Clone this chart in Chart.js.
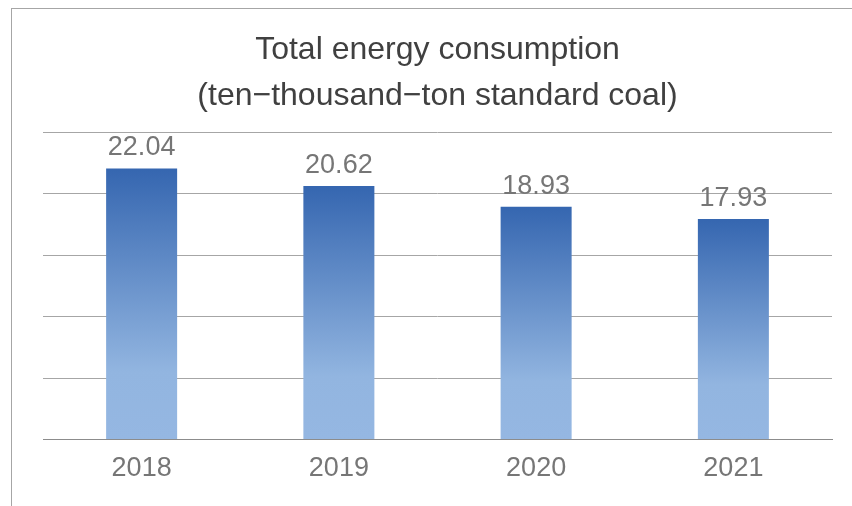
<!DOCTYPE html>
<html>
<head>
<meta charset="utf-8">
<script src="https://cdn.jsdelivr.net/npm/chart.js@4/dist/chart.umd.min.js"></script>
<style>
  html, body { margin: 0; padding: 0; background: #fff; }
  #frame {
    position: absolute; left: 11px; top: 8px; width: 841px; height: 498px;
    border-left: 1px solid #a6a6a6; border-top: 1px solid #a6a6a6;
  }
  #wrap { position: absolute; left: 12px; top: 9px; width: 840px; height: 497px; }
</style>
</head>
<body>
<div id="frame"></div>
<div id="wrap"><canvas id="mycanvas"></canvas></div>
<script>
var years = ['2018', '2019', '2020', '2021'];
var consumption = [22.04, 20.62, 18.93, 17.93];
var titleLines = ['Total energy consumption', '(ten\u2212thousand\u2212ton standard coal)'];

var fontName = '"Liberation Sans", Arial, sans-serif';

// value labels above bars
var valueLabels = {
  id: 'valueLabels',
  afterDatasetsDraw: function(chart) {
    var ctx = chart.ctx;
    var meta = chart.getDatasetMeta(0);
    ctx.save();
    ctx.font = '27px ' + fontName;
    ctx.fillStyle = '#767676';
    ctx.textAlign = 'center';
    ctx.textBaseline = 'alphabetic';
    meta.data.forEach(function(bar, i) {
      ctx.fillText(consumption[i].toFixed(2), bar.x, bar.y - 13);
    });
    ctx.restore();
  }
};

function barGradient(context) {
  var chart = context.chart;
  var area = chart.chartArea;
  if (!area) return '#5b86c6';
  var y = chart.scales.y;
  var v = context.raw;
  var top = y.getPixelForValue(v);
  var bottom = y.getPixelForValue(0);
  var g = chart.ctx.createLinearGradient(0, top, 0, bottom);
  g.addColorStop(0, '#3566b0');
  g.addColorStop(0.75, '#92b5e0');
  g.addColorStop(1, '#95b7e2');
  return g;
}

var ctx = document.getElementById('mycanvas');
new Chart(ctx, {
  type: 'bar',
  data: {
    labels: years,
    datasets: [{
      label: 'Total energy consumption',
      data: consumption,
      backgroundColor: barGradient,
      borderWidth: 0,
      barPercentage: 0.36,
      categoryPercentage: 1
    }]
  },
  plugins: [valueLabels],
  options: {
    responsive: true,
    maintainAspectRatio: false,
    animation: false,
    layout: { padding: { left: 31, right: 20, top: 18, bottom: 16 } },
    plugins: {
      legend: { display: false },
      tooltip: { enabled: false },
      title: {
        display: true,
        text: titleLines,
        color: '#404040',
        font: { family: fontName, size: 32, weight: 'normal', lineHeight: 1.4375 },
        padding: { top: 0, bottom: 13 }
      }
    },
    scales: {
      x: {
        grid: { display: false },
        border: { display: true, color: '#8c8c8c', width: 1 },
        ticks: {
          color: '#767676',
          font: { family: fontName, size: 27 },
          padding: 5
        }
      },
      y: {
        min: 0,
        max: 25,
        ticks: { display: false, stepSize: 5 },
        grid: { color: '#a6a6a6', lineWidth: 1, drawTicks: false },
        border: { display: false }
      }
    }
  }
});
</script>
</body>
</html>
